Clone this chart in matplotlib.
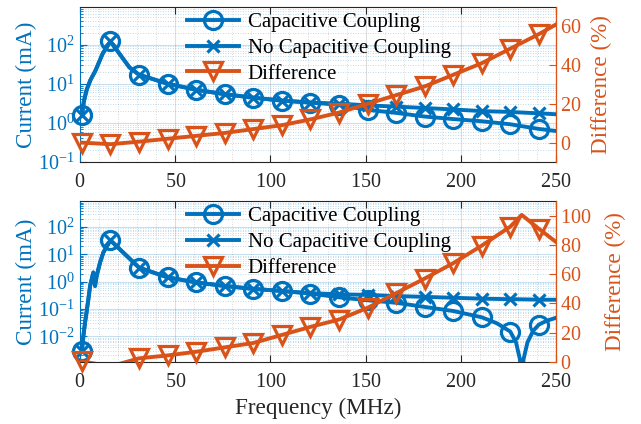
import numpy as np
import matplotlib
matplotlib.use('Agg')
import matplotlib.pyplot as plt
from matplotlib.lines import Line2D
from matplotlib.ticker import LogLocator, NullFormatter, MultipleLocator

plt.rcParams['font.family'] = ['Liberation Serif', 'DejaVu Serif']
plt.rcParams['mathtext.fontset'] = 'custom'
plt.rcParams['mathtext.rm'] = 'Liberation Serif'
plt.rcParams['mathtext.it'] = 'Liberation Serif:italic'
plt.rcParams['axes.formatter.use_mathtext'] = True

# ---------------- data ----------------
marker_freqs = [1, 16, 31, 46, 61, 76, 91, 106, 121, 136, 151, 166, 181, 196, 211, 226, 241]

# top panel
freq_top = [1, 2, 3.5, 5.5, 8, 12, 16, 21, 26, 31, 46, 61, 76, 91, 106, 121, 136,
            151, 166, 181, 196, 211, 226, 241, 250]
cap_top = [1.55, 3.5, 7, 12.5, 21, 60, 120, 56, 26, 17, 10, 7, 5.4, 4.4, 3.7, 3.3, 2.9,
           2.15, 1.8, 1.45, 1.25, 1.1, 0.92, 0.7, 0.62]
nocap_top = [1.55, 3.5, 7, 12.5, 21, 60, 120, 56, 26, 17, 10, 7, 5.4, 4.4, 3.7, 3.3, 3.1,
             2.8, 2.6, 2.4, 2.2, 2.0, 1.9, 1.75, 1.66]
freq_diff_top = [1, 16, 31, 46, 61, 76, 91, 106, 121, 136, 151, 166, 181, 196, 211, 226, 241, 250]
diff_top = [0, -0.8, 0.5, 2.0, 3.5, 5, 7, 9, 12, 15.5, 20, 24.5, 29, 35, 41, 48.5, 56, 61]

# bottom panel
freq_bot = [1, 1.75, 2.6, 4.4, 5.3, 7, 7.9, 8.8, 10.5, 12.3, 16, 31, 46, 61, 76, 91, 106, 121,
            136, 151, 166, 181, 196, 211, 219, 226, 229, 231, 232, 233, 235, 238, 241, 245, 250]
cap_bot = [0.003, 0.01, 0.03, 0.23, 0.7, 2.2, 0.7, 1.7, 5, 12, 33, 3.3, 1.45, 0.95, 0.7, 0.55,
           0.46, 0.37, 0.27, 0.21, 0.17, 0.12, 0.085, 0.05, 0.03, 0.015, 0.006, 0.0015, 0.0003,
           0.0015, 0.006, 0.016, 0.027, 0.037, 0.048]
nocap_bot = [0.003, 0.01, 0.03, 0.23, 0.7, 2.2, 0.7, 1.7, 5, 12, 33, 3.3, 1.45, 0.95, 0.7, 0.55,
             0.46, 0.38, 0.35, 0.33, 0.3, 0.28, 0.26, 0.24, 0.235, 0.23, 0.23, 0.228, 0.228,
             0.227, 0.226, 0.224, 0.22, 0.22, 0.22]
freq_diff_bot = [1, 16, 31, 46, 61, 76, 91, 106, 121, 136, 151, 166, 181, 196, 211, 226, 232, 241, 250]
diff_bot = [0.5, -3, 2.5, 4.5, 7, 10, 13, 18.5, 24, 29, 37, 47, 57, 67.5, 79.5, 92.5, 100.5, 91, 82]

x_ticks = [0, 50, 100, 150, 200, 250]
labels = ['Capacitive Coupling', 'No Capacitive Coupling', 'Difference']

# ---------------- style ----------------
BLUE = '#0072BD'
ORANGE = '#D95319'
DARK = '#262626'
LW = 2.8
MS = 13
MEW = 2.3
TICK_FS = 14.5
LABEL_FS = 16.7
LEG_FS = 15

fig = plt.figure(figsize=(6.41, 4.24), dpi=100)


def panel(pos, f_cur, cap, nocap, f_diff, diff, ylim, rlim, rticks, show_xlabel, rlabel_x):
    f_cur = np.asarray(f_cur, float)
    cap = np.asarray(cap, float)
    nocap = np.asarray(nocap, float)
    f_diff = np.asarray(f_diff, float)
    diff = np.asarray(diff, float)

    ax = fig.add_axes(pos)
    ax.set_yscale('log')
    ax.set_xlim(0, 250)
    ax.set_ylim(*ylim)

    # grid
    ax.xaxis.set_minor_locator(MultipleLocator(10))
    ax.yaxis.set_major_locator(LogLocator(base=10, numticks=20))
    ax.yaxis.set_minor_locator(LogLocator(base=10, subs=np.arange(2, 10), numticks=20))
    ax.yaxis.set_minor_formatter(NullFormatter())
    ax.grid(True, which='major', axis='x', color=DARK, alpha=0.15, lw=0.8)
    ax.grid(True, which='minor', axis='x', color=DARK, alpha=0.22, lw=0.6, ls=(0, (1, 2)))
    ax.grid(True, which='major', axis='y', color=BLUE, alpha=0.22, lw=0.8)
    ax.grid(True, which='minor', axis='y', color=BLUE, alpha=0.35, lw=0.6, ls=(0, (1, 2)))
    ax.set_axisbelow(True)

    m_cur = np.isin(f_cur, marker_freqs)
    ax.plot(f_cur, cap, color=BLUE, lw=LW, solid_joinstyle='round')
    ax.plot(f_cur[m_cur], cap[m_cur], ls='none', marker='o', ms=MS, mfc='none',
            mec=BLUE, mew=MEW, clip_on=False)
    ax.plot(f_cur, nocap, color=BLUE, lw=LW, solid_joinstyle='round')
    ax.plot(f_cur[m_cur], nocap[m_cur], ls='none', marker='x', ms=9, mec=BLUE,
            mew=MEW, clip_on=False)

    ax.set_xticks(x_ticks)
    ax.tick_params(axis='x', which='major', direction='in', top=True, length=5,
                   color=DARK, labelcolor=DARK, labelsize=TICK_FS, pad=8, width=0.8)
    ax.tick_params(axis='x', which='minor', length=0, top=True)
    ax.tick_params(axis='y', which='major', direction='in', length=5, color=BLUE,
                   labelcolor=BLUE, labelsize=TICK_FS, pad=4, width=0.8)
    ax.tick_params(axis='y', which='minor', direction='in', length=2.5, color=BLUE, width=0.6)
    ax.spines['left'].set_color(BLUE)
    ax.spines['top'].set_color(DARK)
    ax.spines['bottom'].set_color(DARK)
    for s in ax.spines.values():
        s.set_linewidth(0.8)
    ax.set_ylabel('Current (mA)', color=BLUE, fontsize=LABEL_FS)
    ax.yaxis.set_label_coords(-0.09, 0.5)
    if show_xlabel:
        ax.set_xlabel('Frequency (MHz)', color=DARK, fontsize=LABEL_FS, labelpad=4)

    ax2 = ax.twinx()
    ax2.set_ylim(*rlim)
    ax2.set_yticks(rticks)
    ax2.plot(f_diff, diff, color=ORANGE, lw=LW, solid_joinstyle='round')
    m_d = np.isin(f_diff, marker_freqs) & (diff >= rlim[0]) & (diff <= rlim[1])
    ax2.plot(f_diff[m_d], diff[m_d], ls='none', marker='v', ms=MS, mfc='none',
             mec=ORANGE, mew=MEW, clip_on=False)
    ax2.tick_params(axis='y', direction='in', length=5, color=ORANGE, labelcolor=ORANGE,
                    labelsize=TICK_FS, pad=3, width=0.8)
    ax2.spines['right'].set_color(ORANGE)
    ax2.spines['left'].set_visible(False)
    ax2.spines['top'].set_visible(False)
    ax2.spines['bottom'].set_visible(False)
    ax2.spines['right'].set_linewidth(0.8)
    ax2.set_ylabel('Difference (%)', color=ORANGE, fontsize=LABEL_FS)
    ax2.yaxis.set_label_coords(rlabel_x, 0.5)

    handles = [
        Line2D([], [], color=BLUE, lw=LW, marker='o', ms=MS, mfc='none', mew=MEW),
        Line2D([], [], color=BLUE, lw=LW, marker='x', ms=9, mew=MEW),
        Line2D([], [], color=ORANGE, lw=LW, marker='v', ms=MS, mfc='none', mew=MEW),
    ]
    leg = ax2.legend(handles, labels, loc='upper left', bbox_to_anchor=(0.225, 0.965),
                     frameon=False, fontsize=LEG_FS, handlelength=2.5, handletextpad=0.4,
                     labelspacing=0.3, borderpad=0, borderaxespad=0, numpoints=1)
    for t in leg.get_texts():
        t.set_color('black')
    return ax, ax2


panel([0.1248, 0.6179, 0.7426, 0.3656], freq_top, cap_top, nocap_top, freq_diff_top, diff_top,
      (0.1, 10 ** 2.96), (-10, 70), [0, 20, 40, 60], False, 1.074)
panel([0.1248, 0.1462, 0.7426, 0.3798], freq_bot, cap_bot, nocap_bot, freq_diff_bot, diff_bot,
      (1.15e-3, 10 ** 2.96), (0, 110), [0, 20, 40, 60, 80, 100], True, 1.103)

fig.savefig('out.png', dpi=100)
